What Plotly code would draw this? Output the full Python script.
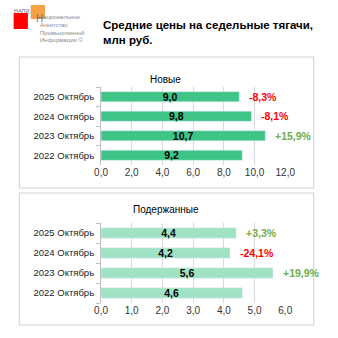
import plotly.graph_objects as go

categories = ["2022 Октябрь", "2023 Октябрь", "2024 Октябрь", "2025 Октябрь"]
new_values = [9.2, 10.7, 9.8, 9.0]
new_changes = ["", "+15,9%", "-8,1%", "-8,3%"]
used_values = [4.6, 5.6, 4.2, 4.4]
used_changes = ["", "+19,9%", "-24,1%", "+3,3%"]
new_ticks = [0, 2, 4, 6, 8, 10, 12]
used_ticks = [0, 1, 2, 3, 4, 5, 6]

W = H = 338
def px(x): return x / W
def py(y): return 1 - y / H

def fmt(v): return f"{v:.1f}".replace(".", ",")

FONT = "Liberation Sans"
fig = go.Figure()
fig.add_trace(go.Bar(y=categories, x=new_values, orientation="h", marker_color="#3EC487",
                     text=[fmt(v) for v in new_values], textposition="inside", insidetextanchor="middle",
                     constraintext="none",
                     textfont=dict(family=FONT, size=10.5, color="#000000", weight="bold"),
                     xaxis="x", yaxis="y", hoverinfo="skip"))
fig.add_trace(go.Bar(y=categories, x=used_values, orientation="h", marker_color="#A0E3C4",
                     text=[fmt(v) for v in used_values], textposition="inside", insidetextanchor="middle",
                     constraintext="none",
                     textfont=dict(family=FONT, size=10.5, color="#000000", weight="bold"),
                     xaxis="x2", yaxis="y2", hoverinfo="skip"))

def color_for(s): return "#FF0000" if s.startswith("-") else "#70AD47"

ann = []
for c, v, s in zip(categories, new_values, new_changes):
    if s:
        ann.append(dict(x=v, y=c, xref="x", yref="y", text=s, showarrow=False, xanchor="left",
                        xshift=8, font=dict(family=FONT, size=10.5, color=color_for(s), weight="bold")))
for c, v, s in zip(categories, used_values, used_changes):
    if s:
        ann.append(dict(x=v, y=c, xref="x2", yref="y2", text=s, showarrow=False, xanchor="left",
                        xshift=8, font=dict(family=FONT, size=10.5, color=color_for(s), weight="bold")))

logo_font = dict(family=FONT, size=6, color="#8a8a8a")
ann += [
    dict(x=px(99), y=py(33), xref="paper", yref="paper", xanchor="left", yanchor="middle", align="left",
         text="Средние цены на седельные тягачи,<br>млн руб.", showarrow=False,
         font=dict(family=FONT, size=11.5, color="#000000", weight="bold")),
    dict(x=px(167), y=py(72), xref="paper", yref="paper", text="Новые", showarrow=False,
         font=dict(family=FONT, size=10, color="#000000")),
    dict(x=px(167), y=py(209), xref="paper", yref="paper", text="Подержанные", showarrow=False,
         font=dict(family=FONT, size=10, color="#000000")),
    dict(x=px(6), y=py(7), xref="paper", yref="paper", xanchor="left", text="НАПИ", showarrow=False,
         borderpad=0, font=dict(family=FONT, size=5.5, color="#5a6a8a")),
    dict(x=px(29), y=py(12), xref="paper", yref="paper", xanchor="left", text="Н", showarrow=False,
         borderpad=0, font=dict(family=FONT, size=10, color="#707070")),
    dict(x=px(34), y=py(28.5), xref="paper", yref="paper", xanchor="left", yanchor="middle", align="left",
         text="&nbsp;&nbsp;ациональное<br>Агентство<br>Промышленной<br>Информации ©", showarrow=False,
         borderpad=0, font=logo_font),
]

shapes = [
    dict(type="rect", xref="paper", yref="paper", x0=px(13), x1=px(323), y0=py(188), y1=py(57),
         line=dict(color="#D0D0D0", width=1), fillcolor="rgba(0,0,0,0)", layer="below"),
    dict(type="rect", xref="paper", yref="paper", x0=px(13), x1=px(323), y0=py(325), y1=py(193),
         line=dict(color="#D0D0D0", width=1), fillcolor="rgba(0,0,0,0)", layer="below"),
    dict(type="rect", xref="paper", yref="paper", x0=px(7), x1=px(22), y0=py(29), y1=py(13),
         line=dict(width=0), fillcolor="#FF0000"),
    dict(type="rect", xref="paper", yref="paper", x0=px(25), x1=px(40), y0=py(19), y1=py(5),
         line=dict(width=0), fillcolor="rgba(245,150,50,0.9)", layer="below"),
]

axis_common = dict(showgrid=True, gridcolor="#D9D9D9", gridwidth=1, zeroline=False, showline=False,
                   tickfont=dict(family=FONT, size=10, color="#333333"), fixedrange=True)
yaxis_common = dict(type="category", showgrid=False, showline=True, linecolor="#BFBFBF", linewidth=1,
                    ticks="outside", ticklen=4, tickcolor="#BFBFBF", tickson="boundaries",
                    ticklabelstandoff=4,
                    tickfont=dict(family=FONT, size=9.5, color="#222222"), fixedrange=True,
                    categoryorder="array", categoryarray=categories)

fig.update_layout(
    width=W, height=H, margin=dict(l=0, r=0, t=0, b=0), paper_bgcolor="white", plot_bgcolor="white",
    showlegend=False, bargap=0.48,
    xaxis=dict(domain=[px(99), px(293)], range=[0, 12], tickvals=new_ticks,
               ticktext=[fmt(t) for t in new_ticks], anchor="y", **axis_common),
    yaxis=dict(domain=[py(165), py(87)], anchor="x", **yaxis_common),
    xaxis2=dict(domain=[px(99), px(293)], range=[0, 6], tickvals=used_ticks,
                ticktext=[fmt(t) for t in used_ticks], anchor="y2", **axis_common),
    yaxis2=dict(domain=[py(303), py(223)], anchor="x2", **yaxis_common),
    annotations=ann, shapes=shapes,
)
fig.write_html("out.html")
